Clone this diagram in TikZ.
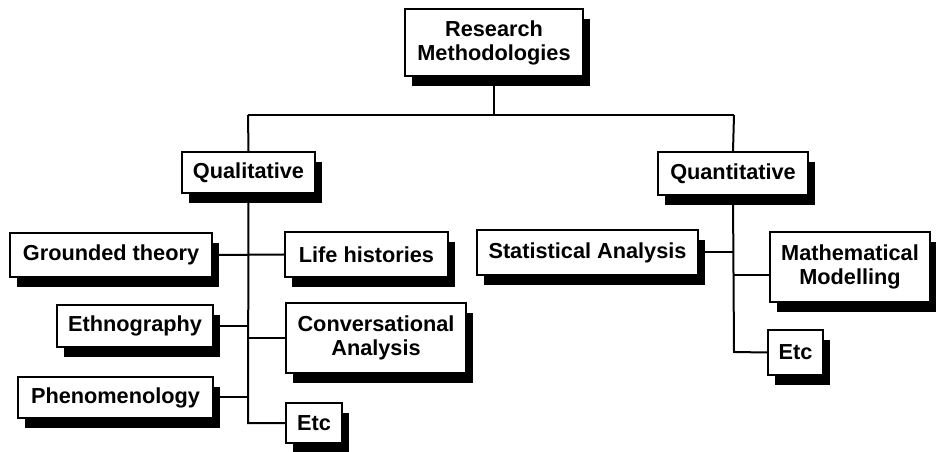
\documentclass[tikz,border=0pt]{standalone}
\usepackage{fontspec}
\setmainfont{Liberation Sans}
\usetikzlibrary{shadows}
\begin{document}
\begin{tikzpicture}[x=1bp,y=-1bp,
  box/.style={draw, line width=2bp, fill=white, align=center, inner sep=0pt,
    font=\fontsize{21.8}{24}\selectfont\bfseries,
    general shadow={fill=black, shadow xshift=7bp, shadow yshift=-10bp}},
  link/.style={line width=2bp}]
\useasboundingbox (0,0) rectangle (936,452);

% boxes: centre and size taken from their edges
\node[box, minimum width=178bp, minimum height=67bp] (rm)   at (494,42.5)  {Research\\Methodologies};
\node[box, minimum width=133bp, minimum height=41bp] (qual) at (248.5,172.5) {Qualitative};
\node[box, minimum width=150bp, minimum height=43bp] (quan) at (733,173.5) {Quantitative};

\node[box, minimum width=202bp, minimum height=44bp] (gt)   at (111,255)   {Grounded theory};
\node[box, minimum width=163bp, minimum height=45bp] (lh)   at (366.5,254.5) {Life histories};
\node[box, minimum width=156bp, minimum height=42bp] (eth)  at (135,326)   {Ethnography};
\node[box, minimum width=180bp, minimum height=70bp] (ca)   at (376,338)   {Conversational\\Analysis};
\node[box, minimum width=195bp, minimum height=41bp] (phen) at (115.5,397.5) {Phenomenology};
\node[box, minimum width=56bp,  minimum height=40bp] (etcA) at (314,423)   {Etc};

\node[box, minimum width=221bp, minimum height=45bp] (sa)   at (587.5,252.5) {Statistical Analysis};
\node[box, minimum width=160bp, minimum height=70bp] (mm)   at (850,267)   {Mathematical\\Modelling};
\node[box, minimum width=55bp,  minimum height=45bp] (etcB) at (795.5,352.5) {Etc};

% junction points on the trunks
\coordinate (top)  at (494,115);
\coordinate (qt)   at (248,115);
\coordinate (nt)   at (734,115);
\coordinate (qend) at (248,423);
\coordinate (nend) at (734,352);
\coordinate (mmj)  at (734,275);

% top level
\draw[link] (rm.south) -- (top);
\draw[link] (qt) -- (nt);
\draw[link] (qt) -- (qual.north);
\draw[link] (nt) -- (quan.north);

% qualitative branch
\draw[link] (qual.south) -- (qend) -- (etcA.west);
\draw[link] (gt.east) -- (lh.west);
\draw[link] (eth.east) -- (eth.east -| qend);
\draw[link] (ca.west -| qend) -- (ca.west);
\draw[link] (phen.east) -- (phen.east -| qend);

% quantitative branch
\draw[link] (quan.south) -- (nend) -- (etcB.west);
\draw[link] (sa.east) -- (sa.east -| nend);
\draw[link] (mmj) -- (mmj -| mm.west);
\end{tikzpicture}
\end{document}
